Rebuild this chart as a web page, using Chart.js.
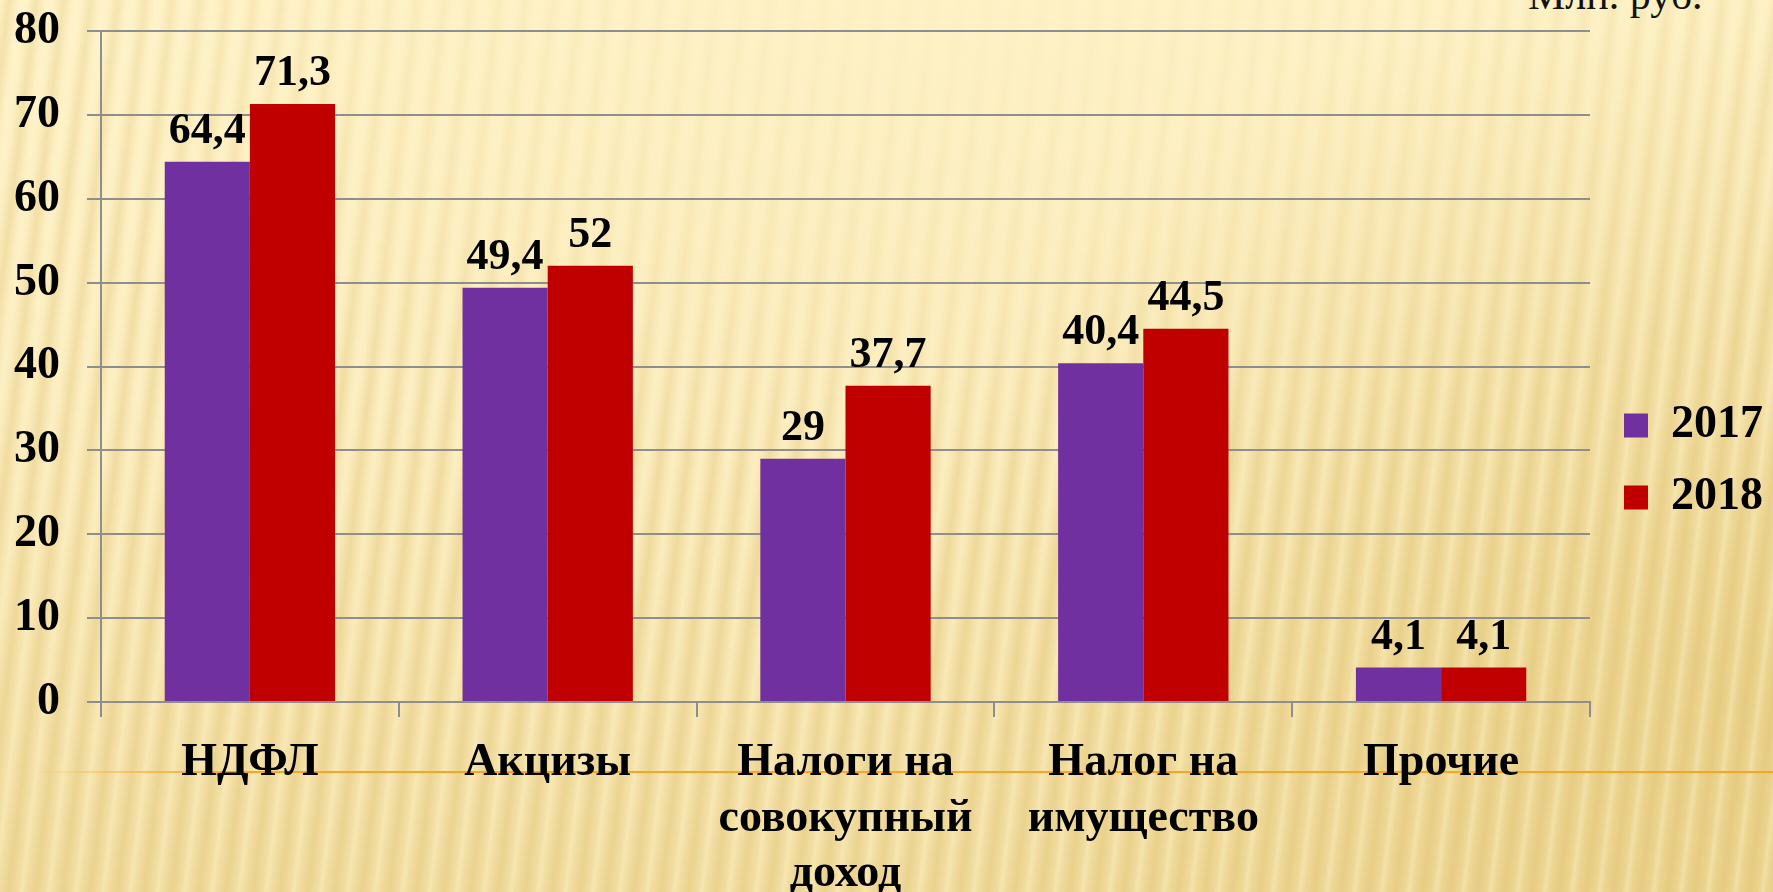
<!DOCTYPE html>
<html>
<head>
<meta charset="utf-8">
<script src="https://cdn.jsdelivr.net/npm/chart.js@4.4.1/dist/chart.umd.min.js"></script>
<style>
  html, body {
    margin: 0;
    padding: 0;
    width: 1773px;
    height: 892px;
    overflow: hidden;
  }
  body {
    position: relative;
    background:
      radial-gradient(ellipse 900px 700px at 100% 75%, rgba(225, 195, 110, 0.5), rgba(225, 195, 110, 0) 100%),
      linear-gradient(180deg, #fef2c6 0%, #fbecbc 45%, #f2dda0 100%);
  }
  #stripes {
    position: absolute;
    left: 0;
    top: 0;
    width: 1773px;
    height: 892px;
    background: repeating-linear-gradient(97deg,
      rgba(210, 175, 85, 0) 0px,
      rgba(210, 175, 85, 0.24) 9px,
      rgba(210, 175, 85, 0) 18px,
      rgba(255, 248, 215, 0.32) 22px,
      rgba(210, 175, 85, 0) 27px);
    -webkit-mask-image: radial-gradient(ellipse 1000px 480px at 55% 0%, rgba(0, 0, 0, 0.05), rgba(0, 0, 0, 0.45) 60%, rgba(0, 0, 0, 1) 100%);
    mask-image: radial-gradient(ellipse 1000px 480px at 55% 0%, rgba(0, 0, 0, 0.05), rgba(0, 0, 0, 0.45) 60%, rgba(0, 0, 0, 1) 100%);
  }
  #rule {
    position: absolute;
    left: 30px;
    top: 771px;
    width: 1743px;
    height: 2px;
    background: linear-gradient(to right, rgba(245, 166, 35, 0), #f5a623 12%, #f5a623 100%);
  }
  #unit {
    position: absolute;
    left: 1528px;
    top: -29px;
    font-family: "Liberation Serif", serif;
    font-size: 42px;
    color: #111;
    white-space: nowrap;
  }
  #chart {
    position: absolute;
    left: 0;
    top: 0;
  }
</style>
</head>
<body>
<div id="stripes"></div>
<div id="rule"></div>
<div id="unit">Млн. руб.</div>
<canvas id="chart" width="1773" height="892"></canvas>
<script>
const categories = [
  "НДФЛ",
  "Акцизы",
  ["Налоги на", "совокупный", "доход"],
  ["Налог на", "имущество"],
  "Прочие",
];
const seriesNames = ["2017", "2018"];
const values2017 = [64.4, 49.4, 29, 40.4, 4.1];
const values2018 = [71.3, 52, 37.7, 44.5, 4.1];
const yTicks = [0, 10, 20, 30, 40, 50, 60, 70, 80];

const serif = "'Liberation Serif', 'Times New Roman', serif";
const axisColor = "#8e8e8e";

// value labels above each bar
const barLabels = {
  id: "barLabels",
  afterDatasetsDraw(chart) {
    const ctx = chart.ctx;
    ctx.save();
    ctx.font = "bold 44px " + serif;
    ctx.fillStyle = "#000";
    ctx.textAlign = "center";
    ctx.textBaseline = "alphabetic";
    chart.data.datasets.forEach((ds, di) => {
      chart.getDatasetMeta(di).data.forEach((bar, i) => {
        const txt = String(ds.data[i]).replace(".", ",");
        ctx.fillText(txt, bar.x, bar.y - 19);
      });
    });
    ctx.restore();
  },
};

new Chart(document.getElementById("chart"), {
  type: "bar",
  data: {
    labels: categories,
    datasets: [
      {
        label: seriesNames[0],
        data: values2017,
        backgroundColor: "#7030a0",
        borderWidth: 0,
      },
      {
        label: seriesNames[1],
        data: values2018,
        backgroundColor: "#c00000",
        borderWidth: 0,
      },
    ],
  },
  options: {
    responsive: false,
    animation: false,
    layout: {
      padding: { left: 12, top: 31, right: 0, bottom: 0 },
    },
    datasets: {
      bar: {
        barPercentage: 1,
        categoryPercentage: 0.572,
      },
    },
    plugins: {
      tooltip: { enabled: false },
      legend: {
        position: "right",
        labels: {
          boxWidth: 24,
          boxHeight: 24,
          padding: 26,
          color: "#000",
          font: { family: serif, size: 46, weight: "bold" },
        },
      },
    },
    scales: {
      x: {
        grid: {
          offset: true,
          drawOnChartArea: false,
          tickLength: 15,
          color: axisColor,
          lineWidth: 2,
        },
        border: { color: axisColor, width: 2 },
        ticks: {
          color: "#000",
          padding: 19,
          maxRotation: 0,
          autoSkip: false,
          font: { family: serif, size: 46, weight: "bold", lineHeight: 1.2 },
        },
        afterFit: (scale) => {
          scale.height = 190;
        },
      },
      y: {
        min: 0,
        max: 80,
        afterBuildTicks: (scale) => {
          scale.ticks = yTicks.map((v) => ({ value: v }));
        },
        grid: {
          color: axisColor,
          lineWidth: 2,
          tickLength: 14,
        },
        border: { color: axisColor, width: 2 },
        ticks: {
          color: "#000",
          padding: 27,
          font: { family: serif, size: 46, weight: "bold" },
        },
        afterFit: (scale) => {
          scale.width = 89;
          scale.paddingTop = 0;
          scale.paddingBottom = 0;
        },
      },
      spacer: {
        type: "linear",
        position: "right",
        display: true,
        grid: { display: false },
        border: { display: false },
        ticks: { display: false },
        afterFit: (scale) => {
          scale.width = 8;
        },
      },
    },
  },
  plugins: [barLabels],
});
</script>
</body>
</html>
